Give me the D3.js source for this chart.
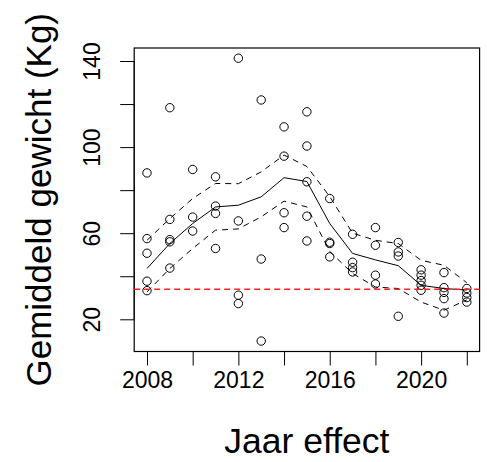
<!DOCTYPE html>
<html>
<head>
<meta charset="utf-8">
<script src="https://cdn.jsdelivr.net/npm/d3@7"></script>
<style>
  html, body { margin: 0; padding: 0; background: #fff; }
  svg { display: block; }
  text { font-family: "Liberation Sans", Arial, sans-serif; fill: #000; }
</style>
</head>
<body>
<svg id="chart" width="487" height="462"></svg>
<script>
// Observed yearly averages (one entry per record)
const pointYears = [
  2008, 2008, 2008, 2008, 2008,
  2009, 2009, 2009, 2009, 2009,
  2010, 2010, 2010,
  2011, 2011, 2011, 2011,
  2012, 2012, 2012, 2012,
  2013, 2013, 2013,
  2014, 2014, 2014, 2014,
  2015, 2015, 2015, 2015, 2015,
  2016, 2016, 2016, 2016,
  2017, 2017, 2017, 2017,
  2018, 2018, 2018, 2018,
  2019, 2019, 2019, 2019,
  2020, 2020, 2020, 2020, 2020,
  2021, 2021, 2021, 2021, 2021,
  2022, 2022, 2022, 2022
];
const pointWeights = [
  88.0, 57.5, 50.7, 37.7, 33.3,
  118.3, 66.4, 57.0, 56.0, 43.8,
  89.6, 67.5, 61.0,
  86.2, 72.6, 69.2, 52.9,
  141.3, 65.7, 31.2, 27.3,
  121.9, 48.0, 9.9,
  109.4, 95.8, 69.5, 62.6,
  116.4, 100.5, 83.9, 67.9, 56.4,
  76.1, 55.8, 55.2, 49.0,
  59.5, 46.5, 44.0, 42.0,
  62.6, 54.4, 40.5, 36.4,
  55.7, 51.3, 49.4, 21.4,
  43.0, 40.5, 38.0, 35.8, 33.5,
  41.7, 34.7, 32.5, 29.6, 22.9,
  34.3, 32.2, 30.1, 28.0
];

// Year effect: fitted mean with lower and upper confidence limits
const effectYears = [2008, 2009, 2010, 2011, 2012, 2013, 2014, 2015, 2016, 2017, 2018, 2019, 2020, 2021, 2022];
const effectFit   = [43.6, 55.2, 64.5, 72.2, 73.0, 76.9, 85.8, 84.0, 64.5, 50.6, 47.6, 44.9, 35.8, 34.3, 33.6];
const effectUpper = [56.7, 66.8, 76.1, 83.1, 83.0, 88.5, 96.3, 91.0, 77.0, 60.0, 56.7, 55.2, 47.4, 45.1, 37.0];
const effectLower = [32.7, 43.6, 52.9, 61.4, 62.0, 67.6, 74.9, 72.2, 51.5, 41.3, 35.0, 34.3, 28.0, 24.2, 29.0];

// Reference level
const referenceWeight = [34];

// Axis ticks and the labels shown under them
const xTicks = [2008, 2010, 2012, 2014, 2016, 2018, 2020, 2022];
const xTickLabels = ["2008", "", "2012", "", "2016", "", "2020", ""];
const yTicks = [20, 40, 60, 80, 100, 120, 140];
const yTickLabels = ["20", "", "60", "", "100", "", "140"];

const xTitle = "Jaar effect";
const yTitle = "Gemiddeld gewicht (Kg)";

const svg = d3.select("#chart");
const plotLeft = 134.2, plotRight = 479.6, plotTop = 48, plotBottom = 351.5;

const x = d3.scaleLinear().domain([2007.44, 2022.56]).range([plotLeft, plotRight]);
const y = d3.scaleLinear().domain([5.04, 146.04]).range([plotBottom, plotTop]);

// Axes
const xAxis = d3.axisBottom(x)
  .tickValues(xTicks)
  .tickSize(14)
  .tickPadding(6)
  .tickFormat((d, i) => xTickLabels[i]);
const gx = svg.append("g").attr("transform", `translate(0,${plotBottom})`).call(xAxis);
gx.select(".domain").attr("d", `M${x(xTicks[0])},0H${x(xTicks[xTicks.length - 1])}`);
gx.selectAll("line").attr("stroke", "#000");
gx.selectAll("text").attr("font-size", 23).attr("dy", "0.71em")
  .attr("font-family", "Liberation Sans, Arial, sans-serif");

const yAxis = d3.axisLeft(y)
  .tickValues(yTicks)
  .tickSize(14)
  .tickFormat((d, i) => yTickLabels[i]);
const gy = svg.append("g").attr("transform", `translate(${plotLeft},0)`).call(yAxis);
gy.select(".domain").attr("d", `M0,${y(yTicks[0])}V${y(yTicks[yTicks.length - 1])}`);
gy.selectAll(".tick text")
  .attr("font-size", 23)
  .attr("font-family", "Liberation Sans, Arial, sans-serif")
  .attr("text-anchor", "middle")
  .attr("x", null).attr("dy", null)
  .attr("transform", "translate(-34,0) rotate(-90)")
  .attr("y", 0);

// Plot frame
svg.append("rect")
  .attr("x", plotLeft).attr("y", plotTop)
  .attr("width", plotRight - plotLeft).attr("height", plotBottom - plotTop)
  .attr("fill", "none").attr("stroke", "#000").attr("stroke-width", 1.2);

// Observed points
svg.append("g").selectAll("circle")
  .data(pointWeights)
  .join("circle")
  .attr("cx", (d, i) => x(pointYears[i]))
  .attr("cy", d => y(d))
  .attr("r", 4.2)
  .attr("fill", "none")
  .attr("stroke", "#000")
  .attr("stroke-width", 1);

// Fitted year effect and its confidence band
const line = d3.line().x((d, i) => x(effectYears[i])).y(d => y(d));
svg.append("path").datum(effectFit).attr("d", line)
  .attr("fill", "none").attr("stroke", "#000").attr("stroke-width", 1);
[effectUpper, effectLower].forEach(band => {
  svg.append("path").datum(band).attr("d", line)
    .attr("fill", "none").attr("stroke", "#000").attr("stroke-width", 1)
    .attr("stroke-dasharray", "6,5");
});

// Reference weight line
svg.append("g").selectAll("line")
  .data(referenceWeight)
  .join("line")
  .attr("x1", plotLeft).attr("x2", plotRight)
  .attr("y1", d => y(d)).attr("y2", d => y(d))
  .attr("stroke", "#ff2020").attr("stroke-width", 1.5)
  .attr("stroke-dasharray", "6,4");

// Axis titles
svg.append("text")
  .attr("x", (plotLeft + plotRight) / 2).attr("y", 453)
  .attr("text-anchor", "middle").attr("font-size", 35.5)
  .text(xTitle);
svg.append("text")
  .attr("transform", `translate(51,${(plotTop + plotBottom) / 2}) rotate(-90)`)
  .attr("text-anchor", "middle").attr("font-size", 35)
  .text(yTitle);
</script>
</body>
</html>
